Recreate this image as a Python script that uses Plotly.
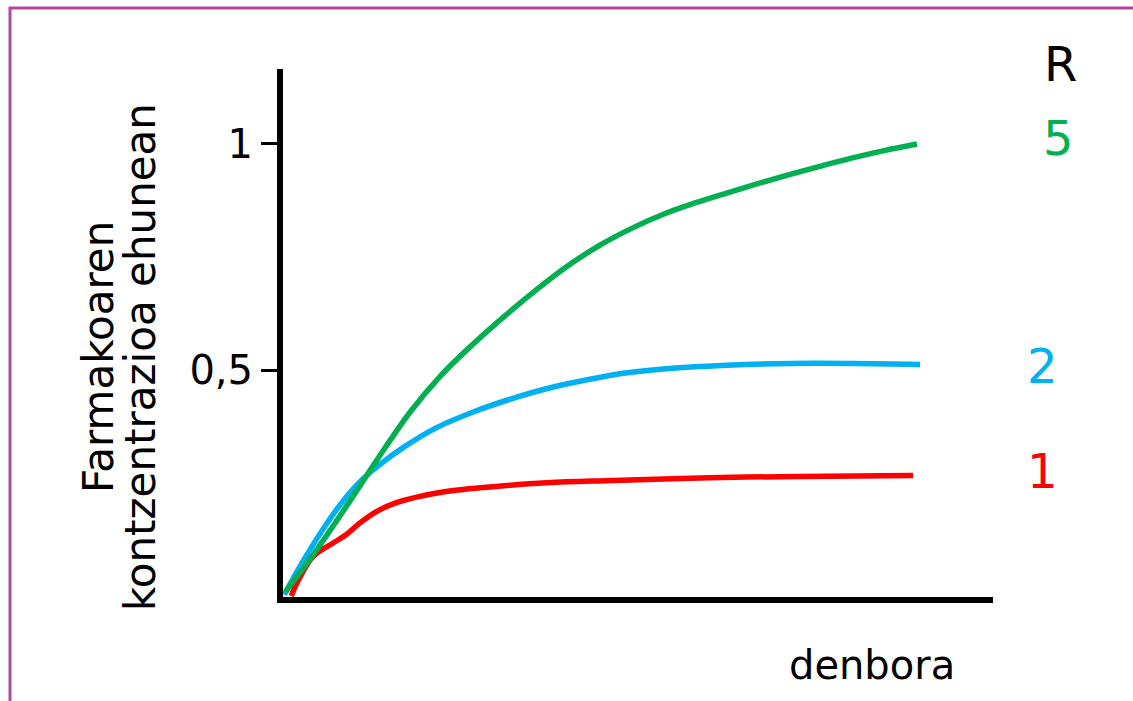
import plotly.graph_objects as go

# ---- data ----
t_green = [0.04, 0.5, 1.0, 1.5, 2.0, 2.5, 3.0, 3.5, 4.0, 4.5, 5.0, 5.5, 6.0, 6.5, 7.0, 7.5, 8.0, 8.5, 9.0, 9.5, 10.0]
v_green = [0.012, 0.098, 0.200, 0.306, 0.407, 0.490, 0.558, 0.620, 0.678, 0.731, 0.776, 0.813, 0.844, 0.869, 0.891, 0.912, 0.932, 0.951, 0.969, 0.985, 0.999]

t_blue = [0.02, 0.3, 0.6, 0.9, 1.2, 1.5, 1.9, 2.4, 3.0, 3.6, 4.2, 4.8, 5.4, 6.0, 7.0, 8.0, 9.0, 10.05]
v_blue = [0.005, 0.075, 0.143, 0.203, 0.252, 0.289, 0.330, 0.372, 0.408, 0.437, 0.461, 0.479, 0.494, 0.503, 0.511, 0.515, 0.515, 0.513]

t_red = [0.13, 0.22, 0.48, 0.79, 1.0, 1.21, 1.48, 1.79, 2.16, 2.69, 3.11, 4.16, 5.21, 6.73, 8.15, 9.94]
v_red = [0.002, 0.031, 0.090, 0.119, 0.138, 0.163, 0.189, 0.208, 0.222, 0.235, 0.241, 0.252, 0.257, 0.263, 0.266, 0.268]

y_tickvals = [0.5, 1]
y_ticktext = ["0,5", "1"]

series_labels = ["5", "2", "1"]
series_colors = ["#00b050", "#00b0f0", "#ff0000"]

FONT = "DejaVu Sans, Verdana, sans-serif"

fig = go.Figure()
for t, v, c, name in [(t_red, v_red, series_colors[2], "1"),
                      (t_blue, v_blue, series_colors[1], "2"),
                      (t_green, v_green, series_colors[0], "5")]:
    fig.add_trace(go.Scatter(x=t, y=v, mode="lines", name=name,
                             line=dict(color=c, width=5.5, shape="spline", smoothing=1.0),
                             hoverinfo="skip"))

fig.update_layout(
    width=1133, height=701,
    margin=dict(l=283, r=140, t=69, b=104),
    paper_bgcolor="white", plot_bgcolor="white",
    showlegend=False,
    font=dict(family=FONT, color="black"),
    xaxis=dict(range=[0, 11.2], showgrid=False, zeroline=False,
               showline=True, linecolor="black", linewidth=6,
               showticklabels=False, ticks=""),
    yaxis=dict(range=[0, 1.1645], showgrid=False, zeroline=False,
               showline=True, linecolor="black", linewidth=6,
               tickvals=y_tickvals, ticktext=y_ticktext,
               ticks="outside", ticklen=16, tickwidth=3, tickcolor="black",
               tickfont=dict(family=FONT, size=40, color="black")),
)

ann = []
ann.append(dict(text="denbora", x=0.8296, y=-0.129, xref="paper", yref="paper",
                xanchor="center", yanchor="middle", showarrow=False,
                font=dict(family=FONT, size=40, color="black")))
ann.append(dict(text="Farmakoaren", x=-0.2606, y=0.4545, xref="paper", yref="paper",
                xanchor="center", yanchor="middle", showarrow=False, textangle=-90,
                font=dict(family=FONT, size=42, color="black")))
ann.append(dict(text="kontzentrazioa ehunean", x=-0.2014, y=0.4545, xref="paper", yref="paper",
                xanchor="center", yanchor="middle", showarrow=False, textangle=-90,
                font=dict(family=FONT, size=42, color="black")))
ann.append(dict(text="R", x=1.095, y=1.0095, xref="paper", yref="paper",
                xanchor="center", yanchor="middle", showarrow=False,
                font=dict(family=FONT, size=48, color="black")))
label_pos = [(1.092, 0.8693), (1.0697, 0.4384), (1.0697, 0.2377)]
for lab, col, (xp, yp) in zip(series_labels, series_colors, label_pos):
    ann.append(dict(text=lab, x=xp, y=yp, xref="paper", yref="paper",
                    xanchor="center", yanchor="middle", showarrow=False,
                    font=dict(family=FONT, size=48, color=col)))
fig.update_layout(annotations=ann)

# purple frame
fig.add_shape(type="rect", xref="paper", yref="paper",
              x0=-0.3845, y0=-0.25, x1=1.25, y1=1.1155,
              line=dict(color="#b5479f", width=3), fillcolor="rgba(0,0,0,0)", layer="below")

fig.write_html("out.html", config={"displayModeBar": False},
               post_script="document.body.style.margin='0px';")
